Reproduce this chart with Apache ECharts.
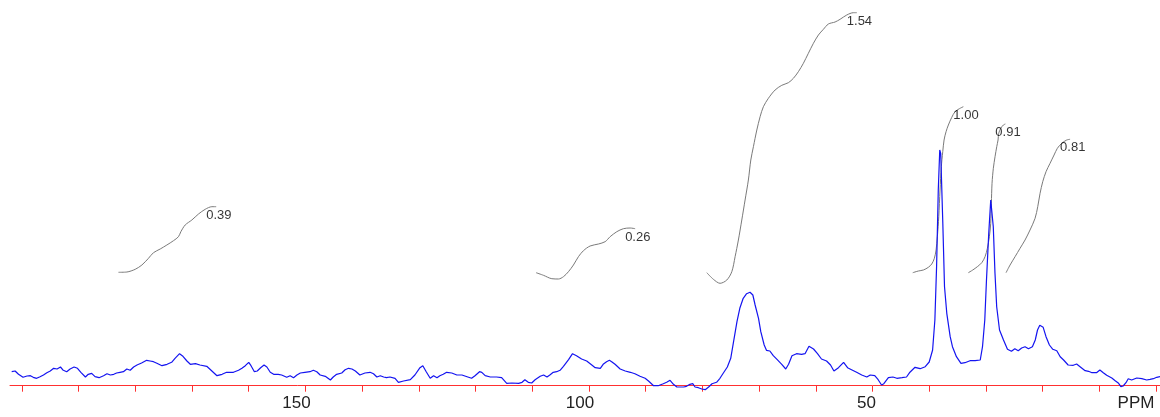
<!DOCTYPE html>
<html>
<head>
<meta charset="utf-8">
<script src="https://cdn.jsdelivr.net/npm/echarts@6/dist/echarts.min.js"></script>
<style>
  html, body { margin: 0; padding: 0; background: #ffffff; }
  #chart { width: 1160px; height: 417px; }
</style>
</head>
<body>
<div id="chart"></div>
<script>
// ---- DATA ----
// x-axis ticks (ppm) and labelled positions
const tickValues = [0, 10, 20, 30, 40, 50, 60, 70, 80, 90, 100, 110, 120, 130, 140, 150, 160, 170, 180, 190, 200];
const labelValues = [0, 50, 100, 150];
const unitLabel = 'PPM';

// spectrum: [ppm, intensity]
const spectrum = [
  [201.8,14.0],[201.2,14.7],[200.6,11.4],[199.8,8.4],[199.1,9.7],[198.5,10.0],[198.0,8.4],[197.4,7.4],
  [196.8,9.0],[196.2,10.7],[195.6,13.0],[195.0,14.7],[194.4,17.4],[193.8,16.7],[193.2,18.7],[192.7,15.4],
  [192.1,14.0],[191.5,16.7],[190.8,18.7],[190.2,17.4],[189.6,13.4],[188.8,8.7],[188.3,11.4],[187.7,12.4],
  [187.1,9.0],[186.4,8.0],[185.6,10.0],[185.0,12.0],[184.4,10.7],[183.8,11.4],[183.3,12.7],[182.7,13.4],
  [182.1,14.0],[181.5,16.7],[180.9,15.4],[180.3,18.7],[179.7,20.7],[178.9,22.7],[178.0,25.4],[177.4,24.7],
  [176.8,24.0],[176.2,22.4],[175.3,20.0],[174.4,21.4],[173.6,23.4],[173.0,27.4],[172.2,32.0],[171.6,29.4],
  [170.9,24.7],[170.3,21.4],[169.4,22.0],[168.6,20.7],[167.4,19.4],[166.5,14.7],[165.6,10.0],[164.7,11.4],
  [163.9,13.4],[162.7,13.4],[161.8,15.4],[161.2,17.4],[160.6,20.0],[160.0,23.4],[159.6,20.0],[159.0,14.0],
  [158.5,14.7],[157.9,18.0],[157.3,20.7],[156.8,18.7],[156.2,13.4],[155.6,11.4],[154.8,11.4],[154.2,10.7],
  [153.3,8.4],[152.7,10.0],[152.1,8.0],[151.5,10.7],[150.9,12.7],[150.1,13.4],[149.2,14.0],[148.6,15.4],
  [148.0,14.0],[147.4,10.7],[146.5,9.4],[145.6,5.7],[145.1,8.7],[144.5,11.4],[143.6,12.7],[143.0,16.0],
  [142.4,17.4],[141.8,16.7],[141.2,14.7],[140.4,10.7],[139.5,12.7],[138.6,13.4],[138.0,12.0],[137.4,8.7],
  [136.8,10.0],[136.2,8.7],[135.7,8.0],[135.1,8.7],[134.2,7.4],[133.6,3.4],[132.7,4.7],[131.5,6.0],
  [130.7,10.7],[129.8,18.0],[129.3,20.0],[128.7,14.0],[128.0,7.4],[127.4,10.0],[126.8,8.0],[126.3,10.0],
  [125.7,11.4],[125.1,13.4],[124.2,12.7],[123.3,10.7],[122.4,10.7],[121.5,9.0],[120.7,7.4],[120.1,10.0],
  [119.3,14.0],[118.9,13.4],[118.3,10.0],[117.4,8.7],[116.3,8.7],[115.4,8.0],[114.5,2.4],[113.6,2.7],
  [112.4,2.4],[111.8,3.4],[111.3,6.0],[110.7,3.4],[110.1,2.7],[109.5,6.0],[108.6,9.4],[108.0,10.7],
  [107.4,8.7],[106.9,10.7],[106.3,13.4],[105.7,14.0],[105.1,15.4],[104.5,19.4],[103.6,26.0],[102.9,32.0],
  [102.2,30.0],[101.3,26.7],[100.4,24.7],[99.5,20.7],[98.9,18.0],[98.0,17.4],[97.5,21.4],[96.9,24.0],
  [96.4,25.4],[96.0,24.0],[95.4,21.4],[94.5,16.7],[93.6,14.7],[92.7,13.4],[91.9,12.0],[91.0,9.4],
  [90.1,7.4],[89.5,4.7],[88.6,0.0],[87.8,0.0],[86.9,2.0],[86.3,3.4],[85.7,5.4],[85.1,1.4],
  [84.5,-1.3],[83.9,-1.3],[83.3,-1.3],[82.8,-0.6],[82.2,1.4],[81.7,2.0],[81.3,-1.3],[80.7,-2.0],
  [80.1,-3.3],[79.5,-4.0],[78.9,-1.3],[78.3,2.0],[77.5,3.4],[76.9,7.4],[76.3,12.7],[75.6,18.7],
  [75.0,27.4],[74.5,44.0],[73.9,64.0],[73.4,77.4],[72.8,87.4],[72.2,92.0],[71.6,93.4],[71.1,90.7],
  [70.7,80.7],[70.1,67.4],[69.7,54.0],[69.1,40.7],[68.7,35.4],[68.1,34.7],[67.5,30.0],[66.8,26.0],
  [66.0,21.4],[65.3,16.7],[64.8,21.4],[64.2,30.0],[63.4,32.0],[62.5,31.4],[61.9,32.0],[61.2,39.4],
  [60.4,36.7],[59.7,32.0],[59.0,26.7],[58.1,24.7],[57.4,20.7],[56.8,14.7],[56.0,18.0],[55.1,23.4],
  [54.4,18.0],[53.7,16.0],[52.8,13.4],[51.9,10.7],[51.0,8.7],[50.4,10.7],[49.6,10.0],[49.0,6.0],
  [48.4,0.7],[48.0,2.0],[47.2,8.0],[46.4,8.7],[45.7,7.4],[44.8,8.0],[44.0,8.7],[43.4,13.5],
  [42.5,18.4],[41.6,17.0],[40.7,19.0],[40.0,23.7],[39.4,35.7],[39.0,65.7],[38.7,119.0],[38.4,195.7],
  [38.14,235.7],[37.97,232.4],[37.6,162.4],[37.3,99.0],[36.9,72.4],[36.3,49.0],[35.9,39.0],[35.2,29.0],
  [34.4,22.4],[33.7,23.0],[32.8,25.0],[31.9,25.0],[31.0,25.7],[30.6,39.0],[30.2,65.7],[29.9,105.7],
  [29.5,152.4],[29.15,185.7],[28.92,187.4],[28.7,159.0],[28.4,112.4],[28.1,79.0],[27.6,55.7],[26.9,45.7],
  [26.2,36.4],[25.5,34.4],[24.9,37.0],[24.3,35.0],[23.7,37.7],[23.1,39.0],[22.5,37.0],[21.8,39.0],
  [21.3,45.7],[20.9,55.7],[20.5,60.4],[19.9,58.4],[19.4,49.0],[18.8,40.7],[18.2,36.4],[17.5,35.0],
  [16.9,29.0],[16.3,25.7],[15.5,20.7],[14.6,20.4],[14.0,21.7],[13.4,19.0],[12.5,15.0],[11.9,14.4],
  [11.3,13.0],[10.5,13.0],[9.9,15.7],[9.3,13.0],[8.7,10.4],[7.8,7.7],[7.2,5.0],[6.6,2.4],
  [6.2,-0.9],[5.8,-0.3],[5.3,3.0],[4.9,7.0],[4.3,5.7],[3.4,7.7],[2.5,7.0],[1.65,5.7],
  [1.06,6.3],[0.47,7.0],[-0.12,8.4],[-0.71,9.0]
];

// integral curves: [ppm, level]
const integralA = [[182.97,113.4],[181.49,113.7],[180.02,116.4],[178.84,120.7],[177.68,127.4],[176.80,133.0],[175.61,136.7],[174.44,140.7],[173.27,145.0],[172.39,149.0],[171.97,154.0],[171.21,160.7],[170.03,165.7],[168.86,171.7],[167.68,176.4],[166.50,179.0],[165.74,179.0]];
const integralB = [[109.32,113.0],[108.03,110.4],[106.55,107.0],[105.39,106.7],[104.50,109.0],[103.62,114.0],[102.74,120.7],[101.86,129.0],[100.98,135.0],[99.80,139.7],[98.33,141.7],[97.15,144.0],[96.27,149.0],[95.09,154.0],[93.93,157.0],[92.74,157.7],[91.86,157.0]];
const integralC = [[79.22,113.0],[78.06,106.4],[76.88,102.4],[75.69,105.7],[74.81,114.0],[74.23,129.0],[73.65,145.7],[73.05,165.7],[72.47,185.7],[71.89,205.7],[71.46,225.7],[71.00,239.0],[70.40,255.7],[69.82,269.0],[69.24,279.0],[68.36,287.4],[67.18,295.7],[66.00,300.4],[64.83,303.0],[63.95,307.4],[63.07,314.0],[62.19,322.4],[61.31,332.4],[60.42,342.4],[59.54,350.7],[58.66,356.4],[57.78,361.7],[56.60,363.7],[55.72,366.4],[54.54,370.7],[53.37,373.0],[52.77,373.0]];
const integralD = [[42.90,113.0],[41.91,114.7],[41.03,115.7],[40.15,118.4],[39.55,121.7],[39.09,127.4],[38.79,135.7],[38.56,149.0],[38.31,169.0],[38.09,195.7],[37.86,219.0],[37.61,234.0],[37.38,245.7],[37.03,254.0],[36.62,260.7],[36.02,268.4],[35.44,274.0],[34.68,277.0],[33.98,279.0]];
const integralE = [[33.10,113.0],[32.32,115.7],[31.51,119.0],[30.73,123.0],[30.15,129.0],[29.74,137.4],[29.39,149.0],[29.15,162.4],[29.04,182.4],[28.92,202.4],[28.69,217.4],[28.39,229.0],[28.09,239.0],[27.86,245.7],[27.74,252.4],[27.38,257.4],[26.92,260.7],[26.57,261.7]];
const integralF = [[26.45,113.0],[25.74,120.7],[24.86,129.0],[23.98,137.4],[23.10,145.7],[22.22,155.7],[21.33,167.4],[20.86,179.0],[20.45,192.4],[19.98,204.0],[19.40,214.0],[18.69,222.4],[17.98,230.7],[17.40,237.4],[16.63,242.4],[15.75,245.7],[15.16,246.4]];
const integralCurves = [integralA, integralB, integralC, integralD, integralE, integralF];
const integralValues = ['0.39', '0.26', '1.54', '1.00', '0.91', '0.81'];

// ---- CHART ----
const chart = echarts.init(document.getElementById('chart'), null, { renderer: 'canvas' });

const series = [{
  type: 'line',
  data: spectrum,
  showSymbol: false,
  symbol: 'none',
  smooth: false,
  clip: false,
  lineStyle: { color: '#1414f0', width: 1.2 },
  z: 3,
  silent: true
}];
integralCurves.forEach((curve) => {
  series.push({
    type: 'line',
    data: curve,
    symbol: 'none',
    showSymbol: false,
    smooth: 0.3,
    clip: false,
    lineStyle: { color: '#7a7a7a', width: 1 },
    z: 2,
    silent: true
  });
});
series.push({
  type: 'scatter',
  symbolSize: 0,
  clip: false,
  silent: true,
  z: 4,
  data: integralCurves.map((c, i) => ({ value: c[c.length - 1], name: integralValues[i] })),
  label: {
    show: true,
    position: 'inside',
    formatter: (p) => p.name,
    align: 'left',
    verticalAlign: 'middle',
    offset: [-10, 8.5],
    color: '#000000',
    fontFamily: 'Liberation Sans, Arial, sans-serif',
    fontSize: 13
  }
});

const option = {
  animation: false,
  backgroundColor: '#ffffff',
  grid: { left: 10, right: 0, top: 5.7, bottom: 31.3, containLabel: false },
  xAxis: {
    type: 'value',
    inverse: true,
    min: -0.7,
    max: 202.1,
    splitLine: { show: false },
    axisLine: { show: true, onZero: false, lineStyle: { color: '#ff3030', width: 1 } },
    axisTick: { show: true, customValues: tickValues, length: 6, lineStyle: { color: '#ff3030', width: 1 } },
    axisLabel: {
      show: true,
      customValues: labelValues,
      margin: 9,
      align: 'center',
      color: '#222222',
      fontFamily: 'Liberation Sans, Arial, sans-serif',
      fontSize: 17,
      formatter: (v) => {
        if (v === 0) return '{u|' + unitLabel + '}';
        if (v < 100) return '{s|' + v + '}';
        return '{n|' + v + '}';
      },
      rich: {
        u: { fontSize: 17, color: '#222222', fontFamily: 'Liberation Sans, Arial, sans-serif', padding: [0, 40, 0, 0] },
        s: { fontSize: 17, color: '#222222', fontFamily: 'Liberation Sans, Arial, sans-serif', padding: [0, 12, 0, 0] },
        n: { fontSize: 17, color: '#222222', fontFamily: 'Liberation Sans, Arial, sans-serif', padding: [0, 18, 0, 0] }
      }
    }
  },
  yAxis: {
    type: 'value',
    show: false,
    min: 0,
    max: 380,
    splitLine: { show: false }
  },
  series: series
};
chart.setOption(option);
</script>
</body>
</html>
